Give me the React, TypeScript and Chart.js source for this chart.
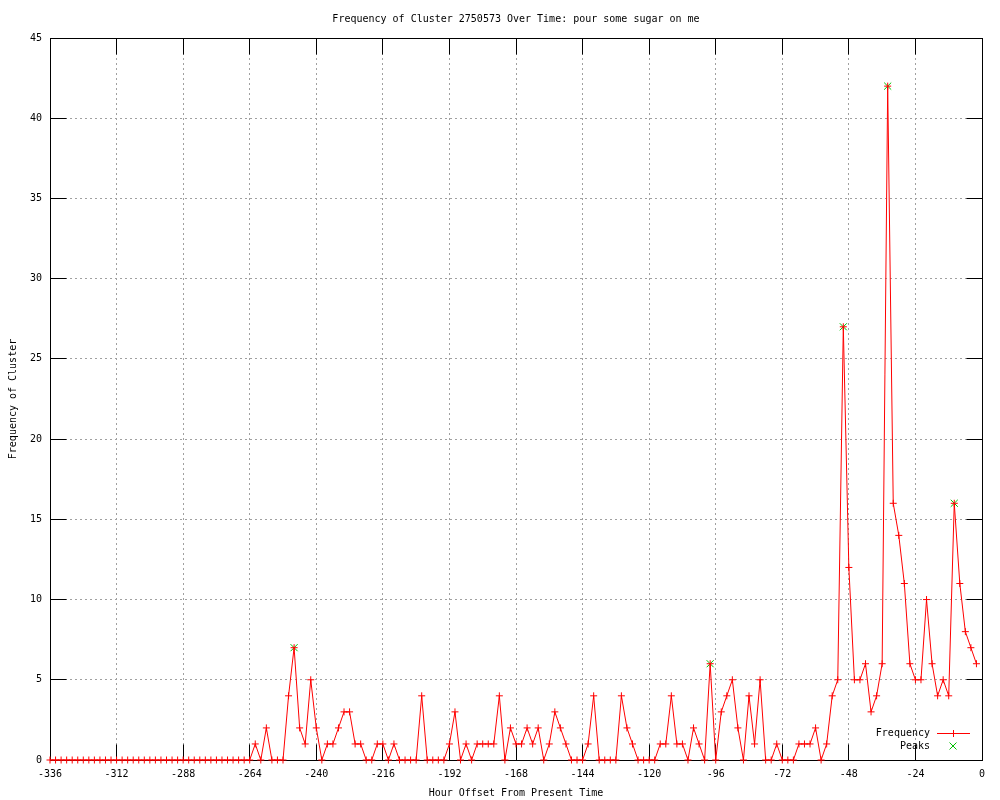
import React, { useEffect, useRef } from "react";
import { Chart, registerables } from "chart.js";

Chart.register(...registerables);

const TITLE = "Frequency of Cluster 2750573 Over Time: pour some sugar on me";
const X_TITLE = "Hour Offset From Present Time";
const Y_TITLE = "Frequency of Cluster";
const SERIES_LABELS = ["Frequency", "Peaks"];

// Hour offsets run from -336 to -2 in 2-hour steps (one entry per value below)
const HOUR_START = -336;
const HOUR_STEP = 2;

const frequency = [
  // -336 .. -264
  0, 0, 0, 0, 0, 0, 0, 0, 0, 0, 0, 0, 0, 0, 0, 0, 0, 0, 0, 0,
  0, 0, 0, 0, 0, 0, 0, 0, 0, 0, 0, 0, 0, 0, 0, 0, 0,
  1, 0, 2, 0, 0, 0, 4, 7, 2, 1, // -262 .. -244
  5, 2, 0, 1, 1, 2, 3, 3, 1, 1, // -242 .. -224
  0, 0, 1, 1, 0, 1, 0, 0, 0, 0, // -222 .. -204
  4, 0, 0, 0, 0, 1, 3, 0, 1, 0, // -202 .. -184
  1, 1, 1, 1, 4, 0, 2, 1, 1, 2, // -182 .. -164
  1, 2, 0, 1, 3, 2, 1, 0, 0, 0, // -162 .. -144
  1, 4, 0, 0, 0, 0, 4, 2, 1, 0, // -142 .. -124
  0, 0, 0, 1, 1, 4, 1, 1, 0, 2, // -122 .. -104
  1, 0, 6, 0, 3, 4, 5, 2, 0, 4, // -102 .. -84
  1, 5, 0, 0, 1, 0, 0, 0, 1, 1, // -82 .. -64
  1, 2, 0, 1, 4, 5, 27, 12, 5, 5, // -62 .. -44
  6, 3, 4, 6, 42, 16, 14, 11, 6, 5, // -42 .. -24
  5, 10, 6, 4, 5, 4, 16, 11, 8, 7, // -22 .. -4
  6, // -2
];

const hours = frequency.map((_, i) => HOUR_START + HOUR_STEP * i);

const peakHours = [-248, -98, -50, -34, -10];
const peakValues = [7, 6, 27, 42, 16];

const X_MIN = -336;
const X_MAX = 0;
const X_STEP = 24;
const Y_MIN = 0;
const Y_MAX = 45;
const Y_STEP = 5;

const FONT = "'DejaVu Sans Mono', 'Liberation Mono', monospace";
const RED = "#ff0000";
const GREEN = "#00c000";

const align = (p: number) => Math.round(p - 0.5) + 0.5;

const gnuFrame = {
  id: "gnuFrame",
  beforeDatasetsDraw(chart: any) {
    const { ctx, chartArea: a, scales } = chart;
    const L = align(a.left), R = align(a.right), T = align(a.top), B = align(a.bottom);
    const TL = 16;
    ctx.save();
    ctx.strokeStyle = "#000";
    ctx.lineWidth = 1;
    ctx.beginPath();
    for (const t of scales.x.ticks) {
      const px = align(scales.x.getPixelForValue(t.value));
      ctx.moveTo(px, B); ctx.lineTo(px, B - TL);
      ctx.moveTo(px, T); ctx.lineTo(px, T + TL);
    }
    for (const t of scales.y.ticks) {
      const py = align(scales.y.getPixelForValue(t.value));
      ctx.moveTo(L, py); ctx.lineTo(L + TL, py);
      ctx.moveTo(R, py); ctx.lineTo(R - TL, py);
    }
    ctx.stroke();
    ctx.strokeRect(L, T, R - L, B - T);
    ctx.restore();
  },
};

const gnuKey = {
  id: "gnuKey",
  afterDatasetsDraw(chart: any) {
    const { ctx, chartArea: a } = chart;
    const textRight = a.right - 52;
    const sx0 = a.right - 45, sx1 = a.right - 12, sxm = a.right - 29;
    const y1 = a.bottom - 27, y2 = a.bottom - 14;
    ctx.save();
    ctx.font = `10px ${FONT}`;
    ctx.fillStyle = "#000";
    ctx.textAlign = "right";
    ctx.textBaseline = "middle";
    ctx.fillText(SERIES_LABELS[0], textRight, y1);
    ctx.fillText(SERIES_LABELS[1], textRight, y2);
    ctx.lineWidth = 1;
    ctx.strokeStyle = RED;
    ctx.beginPath();
    ctx.moveTo(sx0, align(y1)); ctx.lineTo(sx1, align(y1));
    ctx.moveTo(align(sxm), align(y1) - 3.5); ctx.lineTo(align(sxm), align(y1) + 3.5);
    ctx.stroke();
    ctx.strokeStyle = GREEN;
    ctx.beginPath();
    ctx.moveTo(sxm - 3.5, y2 - 3.5); ctx.lineTo(sxm + 3.5, y2 + 3.5);
    ctx.moveTo(sxm - 3.5, y2 + 3.5); ctx.lineTo(sxm + 3.5, y2 - 3.5);
    ctx.stroke();
    ctx.restore();
  },
};

export default function App() {
  const ref = useRef<HTMLCanvasElement | null>(null);

  useEffect(() => {
    if (!ref.current) return;
    Chart.defaults.font.family = FONT;
    Chart.defaults.font.size = 10;
    Chart.defaults.color = "#000";
    const chart = new Chart(ref.current, {
      type: "line",
      data: {
        datasets: [
          {
            label: SERIES_LABELS[0],
            data: hours.map((h, i) => ({ x: h, y: frequency[i] })),
            borderColor: RED,
            borderWidth: 1,
            pointStyle: "cross",
            pointRadius: 3.5,
            pointBorderColor: RED,
            pointBorderWidth: 1,
            fill: false,
            tension: 0,
            order: 0,
            clip: 6,
          },
          {
            label: SERIES_LABELS[1],
            data: peakHours.map((h, i) => ({ x: h, y: peakValues[i] })),
            showLine: false,
            borderColor: GREEN,
            pointStyle: "crossRot",
            pointRadius: 5,
            pointBorderColor: GREEN,
            pointBorderWidth: 1,
            order: 1,
            clip: 6,
          },
        ],
      },
      options: {
        responsive: false,
        animation: false,
        events: [],
        layout: { padding: { top: 0, right: 18, bottom: 0, left: 0 } },
        plugins: {
          legend: { display: false },
          tooltip: { enabled: false },
          title: {
            display: true,
            text: TITLE,
            fullSize: false,
            color: "#000",
            font: { family: FONT, size: 10, weight: "normal" },
            padding: { top: 13, bottom: 13 },
          },
        },
        scales: {
          x: {
            type: "linear",
            min: X_MIN,
            max: X_MAX,
            afterFit: (s: any) => { s.height = 40; },
            ticks: { stepSize: X_STEP, padding: 8, color: "#000", font: { family: FONT, size: 10 }, maxRotation: 0 },
            grid: { drawTicks: false, color: "#a0a0a0", lineWidth: 1 },
            border: { display: false, dash: [2, 3] },
            title: { display: true, text: X_TITLE, color: "#000", font: { family: FONT, size: 10 }, padding: { top: 0, bottom: 1 } },
          },
          y: {
            type: "linear",
            min: Y_MIN,
            max: Y_MAX,
            afterFit: (s: any) => { s.width = 50; },
            ticks: { stepSize: Y_STEP, padding: 8, color: "#000", font: { family: FONT, size: 10 } },
            grid: { drawTicks: false, color: "#a0a0a0", lineWidth: 1 },
            border: { display: false, dash: [2, 3] },
            title: { display: true, text: Y_TITLE, color: "#000", font: { family: FONT, size: 10 }, padding: { top: 7, bottom: 0 } },
          },
        },
      } as any,
      plugins: [gnuFrame, gnuKey],
    });
    return () => chart.destroy();
  }, []);

  return (
    <div style={{ position: "fixed", left: 0, top: 0, width: 1000, height: 800, background: "#fff" }}>
      <canvas ref={ref} width={1000} height={800} style={{ display: "block" }} />
    </div>
  );
}
